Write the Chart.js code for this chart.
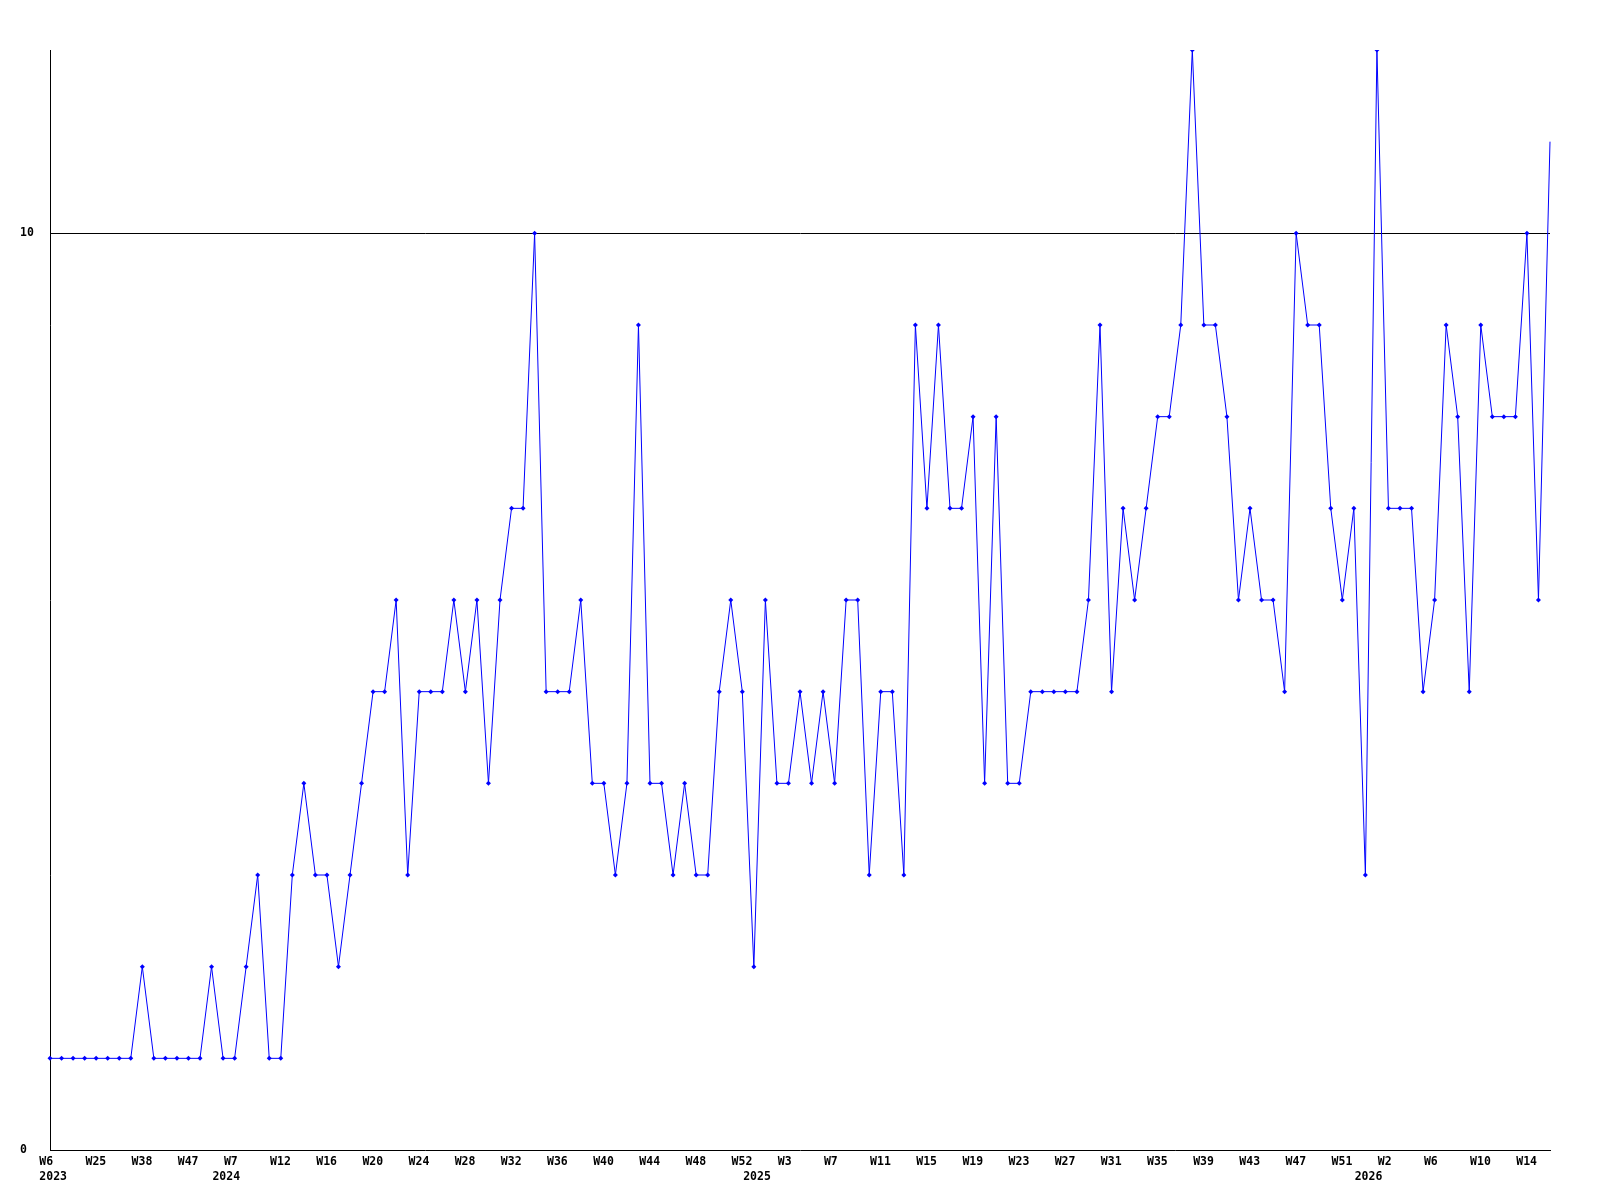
<!DOCTYPE html>
<html>
<head>
<meta charset="utf-8">
<script src="https://cdn.jsdelivr.net/npm/chart.js@4.4.1/dist/chart.umd.min.js"></script>
<style>
  html, body { margin: 0; padding: 0; background: #ffffff; }
  #wrap { width: 1600px; height: 1200px; }
</style>
</head>
<body>
<div id="wrap"><canvas id="c" width="1600" height="1200"></canvas></div>
<script>
// ---- data ----
const values = [
  1,1,1,1,1,1,1,1,2,1,1,1,1,1,2,1,1,2,3,1,
  1,3,4,3,3,2,3,4,5,5,6,3,5,5,5,6,5,6,4,6,7,7,10,5,
  5,5,6,4,4,3,4,9,4,4,3,4,3,3,5,6,5,2,6,4,4,5,4,
  5,4,6,6,3,5,5,3,9,7,9,7,7,8,4,8,4,4,5,5,5,5,5,6,
  9,5,7,6,7,8,8,9,12,9,9,8,6,7,6,6,5,10,9,9,7,6,7,
  3,12,7,7,7,5,6,9,8,5,9,8,8,8,10,6,11
];
// week labels shown on every 4th point
const weekTicks = ["W6","W25","W38","W47","W7","W12","W16","W20","W24","W28","W32","W36",
  "W40","W44","W48","W52","W3","W7","W11","W15","W19","W23","W27","W31","W35","W39",
  "W43","W47","W51","W2","W6","W10","W14"];
// year labels (second row) and the point index where each appears
const yearIdx = [0, 15, 61, 114];
const yearTicks = ["2023","2024","2025","2026"];
const yTickValues = [0, 10];
const yMin = 0, yMax = 12;

// ---- build category labels ----
const categories = values.map((v, i) => {
  const wk = (i % 4 === 0 && weekTicks[i / 4] !== undefined) ? weekTicks[i / 4] : "";
  const yi = yearIdx.indexOf(i);
  const yr = yi >= 0 ? yearTicks[yi] : "";
  return (wk || yr) ? [wk, yr] : "";
});

const FONT = { family: "'DejaVu Sans Mono', 'Liberation Mono', monospace", size: 11.5, weight: 'bold', lineHeight: 1.25 };
const last = values.length - 1;

new Chart(document.getElementById('c'), {
  type: 'line',
  data: {
    labels: categories,
    datasets: [{
      data: values,
      borderColor: '#0000ff',
      borderWidth: 1,
      tension: 0,
      fill: false,
      pointStyle: 'rectRot',
      pointRadius: (ctx) => ctx.dataIndex === last ? 0 : 2.5,
      pointBackgroundColor: '#0000ff',
      pointBorderColor: '#0000ff',
      pointBorderWidth: 0
    }]
  },
  options: {
    responsive: false,
    animation: false,
    devicePixelRatio: 1,
    events: [],
    layout: { padding: { left: 20, top: 50, right: 50, bottom: 0 } },
    plugins: { legend: { display: false }, title: { display: false }, tooltip: { enabled: false } },
    scales: {
      x: {
        type: 'category',
        offset: false,
        grid: { display: false, drawTicks: false },
        border: { display: true, color: '#000000', width: 1 },
        ticks: {
          autoSkip: false,
          maxRotation: 0,
          minRotation: 0,
          align: 'start',
          labelOffset: -10.7,
          padding: 5,
          color: '#000000',
          font: FONT
        },
        afterFit: (s) => { s.height = 50; }
      },
      y: {
        min: yMin,
        max: yMax,
        grid: {
          drawTicks: false,
          color: (ctx) => (ctx.tick && ctx.tick.value === 10) ? '#000000' : 'rgba(0,0,0,0)',
          lineWidth: 1
        },
        border: { display: true, color: '#000000', width: 1 },
        afterBuildTicks: (s) => { s.ticks = yTickValues.map(v => ({ value: v })); },
        ticks: {
          crossAlign: 'far',
          padding: 0,
          color: '#000000',
          font: FONT,
          callback: (v) => String(v)
        },
        afterFit: (s) => { s.width = 30; }
      }
    }
  }
});
</script>
</body>
</html>
